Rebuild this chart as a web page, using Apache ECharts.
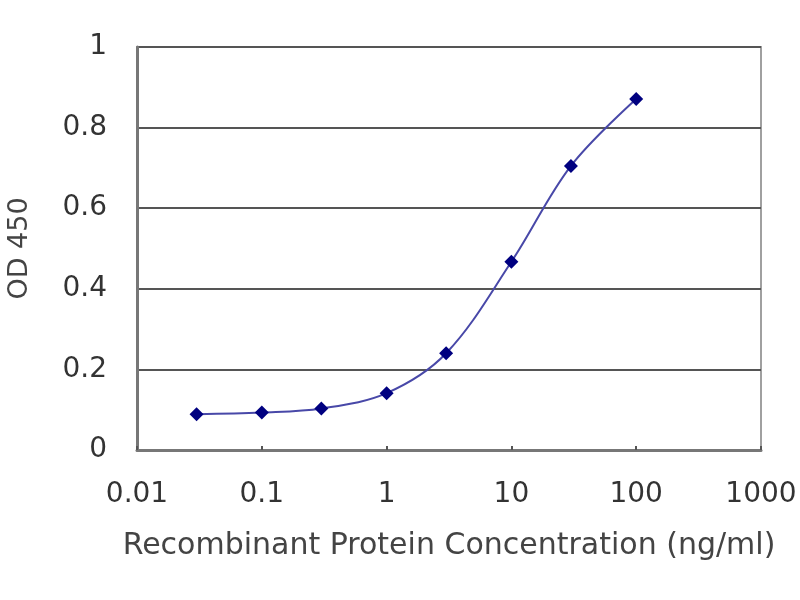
<!DOCTYPE html>
<html><head><meta charset="utf-8">
<script src="https://cdn.jsdelivr.net/npm/echarts@6/dist/echarts.min.js"></script>
<style>html,body{margin:0;padding:0;background:#fff}#c{width:800px;height:600px}</style>
</head><body><div id="c"></div>
<script>
const concentrations = [0.03, 0.1, 0.3, 1, 3, 10, 30, 100];
const odValues = [0.089, 0.093, 0.103, 0.141, 0.240, 0.467, 0.705, 0.871];
const yTicks = [0, 0.2, 0.4, 0.6, 0.8, 1];
const xTitle = 'Recombinant Protein Concentration (ng/ml)';
const yTitle = 'OD 450';

const FONT = 'DejaVu Sans';
const chart = echarts.init(document.getElementById('c'));
chart.setOption({
  backgroundColor: '#fff',
  animation: false,
  grid: { left: 137, right: 39, top: 47, bottom: 150, show: true, borderColor: '#a0a0a0', borderWidth: 2,
    containLabel: false, outerBoundsMode: 'none' },
  xAxis: {
    type: 'log', logBase: 10, min: 0.01, max: 1000,
    name: xTitle, nameLocation: 'middle', nameGap: 81,
    nameTextStyle: { fontFamily: FONT, fontSize: 30, color: '#444' },
    axisLine: { show: true, lineStyle: { color: '#777', width: 3 } },
    axisTick: { show: true, inside: true, length: 4, lineStyle: { color: '#555', width: 2 } },
    axisLabel: { fontFamily: FONT, fontSize: 28, color: '#333', margin: 31,
      formatter: v => String(v) },
    splitLine: { show: false }, minorTick: { show: false }
  },
  yAxis: {
    type: 'value', min: 0, max: 1, interval: 0.2,
    name: yTitle, nameLocation: 'middle', nameGap: 104, nameRotate: 90,
    nameTextStyle: { fontFamily: FONT, fontSize: 27, color: '#444' },
    axisLine: { show: true, lineStyle: { color: '#777', width: 3 } },
    axisTick: { show: false },
    axisLabel: { fontFamily: FONT, fontSize: 28, color: '#333', margin: 30,
      formatter: v => { const t = yTicks.find(k => Math.abs(k - v) < 1e-6); return String(t !== undefined ? t : v); } },
    splitLine: { show: true, lineStyle: { color: '#555', width: 2 } }
  },
  series: [{
    type: 'line', smooth: 0.35,
    data: concentrations.map((c, i) => [c, odValues[i]]),
    symbol: 'diamond', symbolSize: 14,
    itemStyle: { color: '#000080' },
    lineStyle: { color: '#4848a8', width: 2 }
  }]
});
</script></body></html>
